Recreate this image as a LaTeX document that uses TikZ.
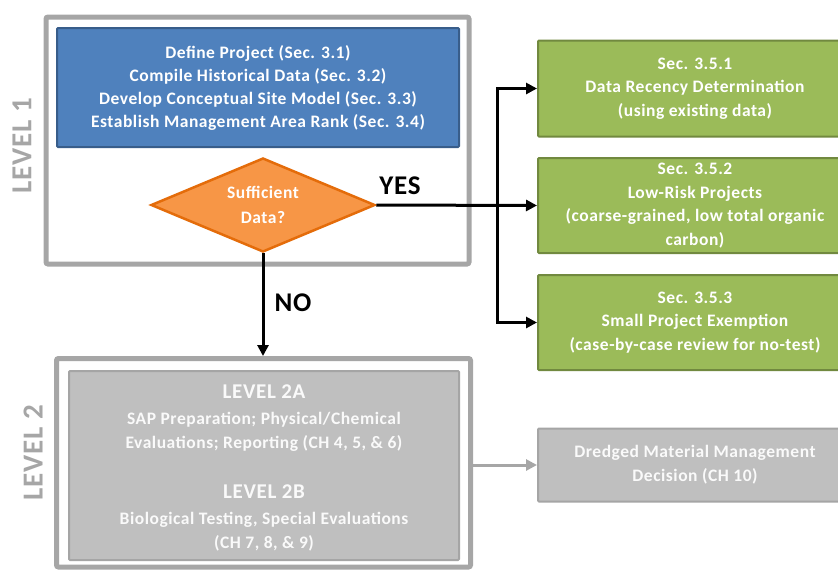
\documentclass[tikz,border=0pt]{standalone}
\usepackage{fontspec}
\setmainfont{Carlito}[LetterSpace=3]
\usetikzlibrary{shapes.geometric,arrows.meta}
\definecolor{lvlgray}{HTML}{A6A6A6}
\definecolor{bluefill}{HTML}{4F81BD}
\definecolor{blueline}{HTML}{385D8A}
\definecolor{orfill}{HTML}{F79646}
\definecolor{orline}{HTML}{E46C0A}
\definecolor{grfill}{HTML}{9BBB59}
\definecolor{grline}{HTML}{71893F}
\definecolor{gyfill}{HTML}{BFBFBF}
\definecolor{gyline}{HTML}{A5A5A5}
\definecolor{gytext}{HTML}{FAFAFA}
\tikzset{
  x=1pt,y=-1pt,
  levelbox/.style={draw=lvlgray,line width=5pt,fill=white,rounded corners=2pt,inner sep=0pt},
  levellabel/.style={rotate=90,text=lvlgray,font=\bfseries\fontsize{29}{29}\selectfont},
  bluebox/.style={draw=blueline,line width=2pt,fill=bluefill,inner sep=0pt,rounded corners=1pt,
     text=white,align=center,font=\bfseries\fontsize{17.5}{23}\selectfont},
  greenbox/.style={draw=grline,line width=2pt,fill=grfill,inner sep=0pt,rounded corners=1pt,
     text=white,align=center,font=\bfseries\fontsize{17.5}{23.5}\selectfont},
  graybox/.style={draw=gyline,line width=2pt,fill=gyfill,inner sep=0pt,rounded corners=1pt,
     text=gytext,align=center,font=\bfseries\fontsize{17.5}{24}\selectfont},
  decision/.style={diamond,draw=orline,line width=2.5pt,fill=orfill,inner sep=0pt,aspect=2.38,
     minimum width=224pt,minimum height=94pt,text=white,align=center,font=\bfseries\fontsize{17.5}{25}\selectfont},
  blkarrow/.style={draw=black,line width=3pt,-{Triangle[length=11pt,width=11pt]}},
  gyarrow/.style={draw=lvlgray,line width=3pt,-{Triangle[length=11pt,width=11pt]}},
  answer/.style={font=\bfseries\fontsize{27}{27}\selectfont}
}
\begin{document}
\begin{tikzpicture}
\useasboundingbox (0,0) rectangle (838,570);
\clip (0,0) rectangle (838,570);
% level 1
\node[levelbox,minimum width=423pt,minimum height=247pt] (l1) at (257.5,140.5) {};
\node[levellabel] (l1lab) at (22,146) {LEVEL 1};
\node[bluebox,minimum width=402pt,minimum height=119pt] (def) at (258,87.5)
  {Define Project (Sec. 3.1)\\Compile Historical Data (Sec. 3.2)\\Develop Conceptual Site Model (Sec. 3.3)\\Establish Management Area Rank (Sec. 3.4)};
\node[decision] (dia) at (263,205) {Sufficient\\Data?};
% level 2
\node[levelbox,minimum width=414pt,minimum height=208.5pt] (l2) at (263.5,462.75) {};
\node[levellabel] (l2lab) at (33,453) {LEVEL 2};
\node[graybox,minimum width=390pt,minimum height=189pt] (lv2) at (264,465.5) {};
\node[text=gytext,align=center,font=\bfseries\fontsize{17.5}{24}\selectfont] (lv2txt) at (264,468)
  {{\fontsize{21}{24}\selectfont LEVEL 2A}\\[2pt]SAP Preparation; Physical/Chemical\\Evaluations; Reporting (CH 4, 5, \& 6)\\[26pt]
   {\fontsize{21}{24}\selectfont LEVEL 2B}\\[2pt]Biological Testing, Special Evaluations\\(CH 7, 8, \& 9)};
% right boxes
\node[greenbox,minimum width=314pt,minimum height=96pt] (g1) at (695,88.5)
  {Sec. 3.5.1\\Data Recency Determination\\(using existing data)};
\node[greenbox,minimum width=314pt,minimum height=95pt] (g2) at (695,205.5)
  {Sec. 3.5.2\\Low-Risk Projects\\(coarse-grained, low total organic\\carbon)};
\node[greenbox,minimum width=314pt,minimum height=95pt] (g3) at (695,322.5)
  {Sec. 3.5.3\\Small Project Exemption\\(case-by-case review for no-test)};
\node[graybox,minimum width=314pt,minimum height=73pt] (dmd) at (695,465)
  {Dredged Material Management\\Decision (CH 10)};
% connectors
\coordinate (jn) at (497,205);
\draw[blkarrow] (dia.east) -- (g2.west);
\draw[blkarrow] (jn) |- (g1.west);
\draw[blkarrow] (jn) |- (g3.west);
\draw[blkarrow] (dia.south) -- (dia.south |- l2.north);
\draw[gyarrow] (l2.east |- dmd.west) -- (dmd.west);
\node[answer] (yes) at (400,186) {YES};
\node[answer] (no) at (293,303) {NO};
\end{tikzpicture}
\end{document}
